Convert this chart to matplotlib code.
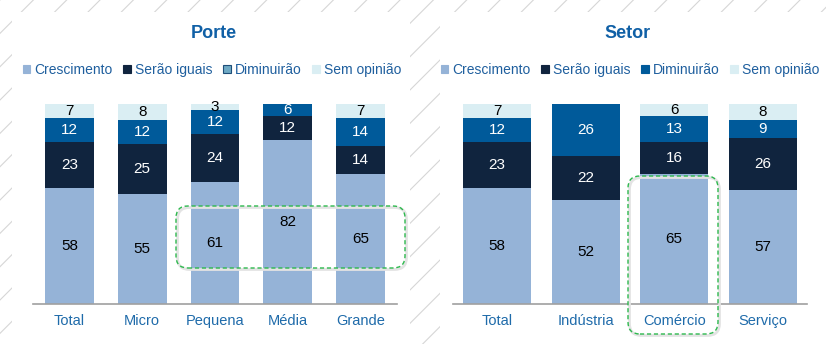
import matplotlib
matplotlib.use("Agg")
import matplotlib.pyplot as plt
from matplotlib.patches import Rectangle, FancyBboxPatch, Patch

plt.rcParams["font.family"] = ["Liberation Sans", "DejaVu Sans"]
plt.rcParams["hatch.linewidth"] = 0.8
plt.rcParams["hatch.color"] = "#D6D6D6"

# ---- data ----
series_names = ["Crescimento", "Serão iguais", "Diminuirão", "Sem opinião"]

porte_cats = ["Total", "Micro", "Pequena", "Média", "Grande"]
porte_cresc = [58, 55, 61, 82, 65]
porte_iguais = [23, 25, 24, 12, 14]
porte_dimin = [12, 12, 12, 6, 14]
porte_semop = [7, 8, 3, 0, 7]

setor_cats = ["Total", "Indústria", "Comércio", "Serviço"]
setor_cresc = [58, 52, 65, 57]
setor_iguais = [23, 22, 16, 26]
setor_dimin = [12, 26, 13, 9]
setor_semop = [7, 0, 6, 8]

colors = ["#95B3D7", "#10243E", "#005A9A", "#DAEEF3"]
label_colors = ["black", "white", "white", "black"]
title_color = "#1060A6"
text_blue = "#1F5F9E"

fig = plt.figure(figsize=(8.26, 3.44), dpi=100)

# hatched background with white panels
fig.patches.append(Rectangle((0, 0), 1, 1, transform=fig.transFigure,
                             facecolor="white", edgecolor="#D6D6D6", hatch="/",
                             linewidth=0, zorder=-3))
for (x0, x1) in [(12, 410), (440, 826)]:
    fig.patches.append(Rectangle((x0 / 826, 0), (x1 - x0) / 826, 1 - 12 / 344,
                                 transform=fig.transFigure, facecolor="white",
                                 edgecolor="none", zorder=-2))


def stacked(ax, cats, stacks, width):
    x = list(range(len(cats)))
    bottom = [0] * len(cats)
    for vals, c, lc in zip(stacks, colors, label_colors):
        ax.bar(x, vals, width, bottom=bottom, color=c, zorder=2)
        for xi, b, v in zip(x, bottom, vals):
            if v > 0:
                ax.text(xi, b + v / 2, str(v), ha="center", va="center",
                        fontsize=11, color=lc, zorder=3, clip_on=False)
        bottom = [b + v for b, v in zip(bottom, vals)]
    ax.set_xlim(-0.5, len(cats) - 0.5)
    ax.set_ylim(0, 100)
    ax.set_xticks(x)
    ax.set_xticklabels(cats, fontsize=10.5, color="#1F6BAA")
    ax.tick_params(axis="x", length=0, pad=7)
    ax.set_yticks([])
    for s in ["top", "left", "right"]:
        ax.spines[s].set_visible(False)
    ax.spines["bottom"].set_color("#A0A0A0")
    ax.spines["bottom"].set_linewidth(1.2)
    ax.patch.set_alpha(0)


ax1 = fig.add_axes([33 / 826, 1 - 304 / 344, 364 / 826, 200 / 344])
stacked(ax1, porte_cats, [porte_cresc, porte_iguais, porte_dimin, porte_semop], 0.67)

ax2 = fig.add_axes([453 / 826, 1 - 304 / 344, 354 / 826, 200 / 344])
stacked(ax2, setor_cats, [setor_cresc, setor_iguais, setor_dimin, setor_semop], 0.77)

fig.text(214 / 826, 1 - 33 / 344, "Porte", ha="center", va="center",
         fontsize=13, fontweight="bold", color=title_color)
fig.text(628 / 826, 1 - 33 / 344, "Setor", ha="center", va="center",
         fontsize=13, fontweight="bold", color=title_color)

# legends
left_colors = [colors[0], colors[1], "#6FA9C4", colors[3]]
left_edges = [colors[0], colors[1], "#1F4E79", colors[3]]
for cx, cols, edges in [(212, left_colors, left_edges), (630, colors, colors)]:
    handles = [Patch(facecolor=c, edgecolor=e, linewidth=0.8) for c, e in zip(cols, edges)]
    leg = fig.legend(handles, series_names, loc="center", ncol=4,
                     bbox_to_anchor=(cx / 826, 1 - 70 / 344), frameon=False,
                     fontsize=10, handlelength=0.55, handleheight=0.55,
                     handletextpad=0.3, columnspacing=0.75, borderaxespad=0,
                     borderpad=0)
    for t in leg.get_texts():
        t.set_color(text_blue)

# green dashed highlight boxes (pixel coords via inches)
for (x0, y0, x1, y1) in [(176, 206, 405, 268), (628, 176, 718, 334)]:
    for off, col, lw, ls in [(1.5, "#E3E3E3", 2.0, "-"), (0, "#2DB84D", 1.0, (0, (3, 2)))]:
        box = FancyBboxPatch((x0 / 100 + off / 100, (344 - y1) / 100 - off / 100),
                             (x1 - x0) / 100, (y1 - y0) / 100,
                             boxstyle="round,pad=0,rounding_size=0.12",
                             transform=fig.dpi_scale_trans, facecolor="none",
                             edgecolor=col, linewidth=lw, linestyle=ls, zorder=5)
        fig.patches.append(box)

fig.savefig("out.png", dpi=100)
